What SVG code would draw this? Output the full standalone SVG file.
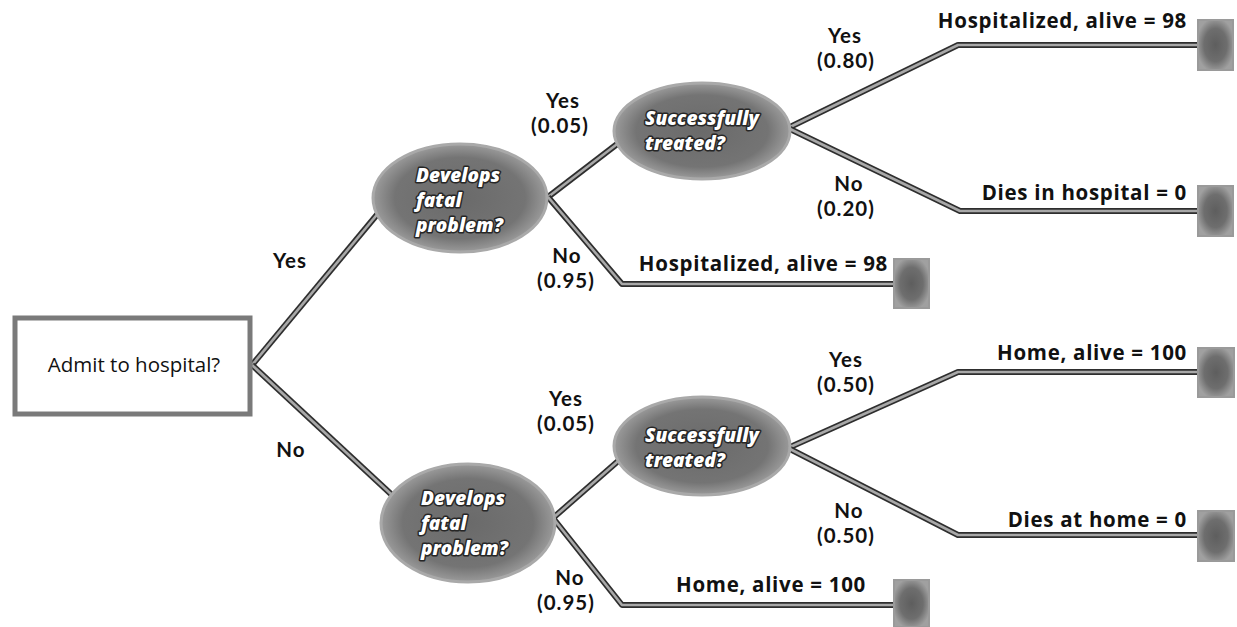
<svg xmlns="http://www.w3.org/2000/svg" xmlns:xlink="http://www.w3.org/1999/xlink" width="1237" height="627" viewBox="0 0 1237 627">
  <style>
    .lbl { font-family: Lato, "Open Sans", "Liberation Sans", sans-serif; font-weight: 700; font-size: 20.5px; letter-spacing: 1px; fill: #111; text-anchor: middle; }
    .out { font-family: "Open Sans", Lato, "Liberation Sans", sans-serif; font-weight: 700; font-size: 20.5px; letter-spacing: 0.7px; fill: #111; text-anchor: end; }
    .q { font-family: "Open Sans", Lato, "Liberation Sans", sans-serif; font-weight: 800; font-style: italic; font-size: 19px; fill: #fff; stroke: #262626; stroke-width: 3px; paint-order: stroke; stroke-linejoin: round; }
    .root { font-family: "Open Sans", Lato, "Liberation Sans", sans-serif; font-size: 20.5px; fill: #111; text-anchor: middle; }
    .wire-o { fill: none; stroke: #2e2e2e; stroke-width: 6; stroke-linejoin: round; }
    .wire-i { fill: none; stroke: #a8a8a8; stroke-width: 2.6; stroke-linejoin: round; }
    .chance { fill: url(#chanceFill); stroke: #a9a9a9; stroke-width: 3; }
    .term { fill: url(#termFill); stroke: #9a9a9a; stroke-width: 2; }
  </style>
  <defs>
    <radialGradient id="chanceFill" cx="50%" cy="50%" r="50%">
      <stop offset="0" stop-color="#6a6a6a"/>
      <stop offset="0.75" stop-color="#747474"/>
      <stop offset="1" stop-color="#9a9a9a"/>
    </radialGradient>
    <radialGradient id="termFill" cx="50%" cy="50%" r="55%">
      <stop offset="0" stop-color="#5e5e5e"/>
      <stop offset="0.6" stop-color="#6e6e6e"/>
      <stop offset="1" stop-color="#a0a0a0"/>
    </radialGradient>
    <path id="w1" d="M252,365 L385,205"/>
    <path id="w2" d="M252,365 L392,495"/>
    <path id="w3" d="M548,197 L625,138"/>
    <path id="w4" d="M548,197 L622,284 L895,284"/>
    <path id="w5" d="M788,128 L958,45 L1199,45"/>
    <path id="w6" d="M788,128 L960,211 L1199,211"/>
    <path id="w7" d="M553,518 L625,455"/>
    <path id="w8" d="M553,518 L622,605 L895,605"/>
    <path id="w9" d="M788,448 L958,372 L1199,372"/>
    <path id="w10" d="M788,448 L958,535 L1199,535"/>
  </defs>

  <rect width="1237" height="627" fill="#fff"/>

  <!-- branches: dark casing with a grey core -->
  <g id="connectors">
    <use xlink:href="#w1" class="wire-o"/><use xlink:href="#w1" class="wire-i"/>
    <use xlink:href="#w2" class="wire-o"/><use xlink:href="#w2" class="wire-i"/>
    <use xlink:href="#w3" class="wire-o"/><use xlink:href="#w3" class="wire-i"/>
    <use xlink:href="#w4" class="wire-o"/><use xlink:href="#w4" class="wire-i"/>
    <use xlink:href="#w5" class="wire-o"/><use xlink:href="#w5" class="wire-i"/>
    <use xlink:href="#w6" class="wire-o"/><use xlink:href="#w6" class="wire-i"/>
    <use xlink:href="#w7" class="wire-o"/><use xlink:href="#w7" class="wire-i"/>
    <use xlink:href="#w8" class="wire-o"/><use xlink:href="#w8" class="wire-i"/>
    <use xlink:href="#w9" class="wire-o"/><use xlink:href="#w9" class="wire-i"/>
    <use xlink:href="#w10" class="wire-o"/><use xlink:href="#w10" class="wire-i"/>
  </g>

  <!-- branch labels -->
  <g id="branch-labels">
    <text class="lbl" x="290" y="268">Yes</text>
    <text class="lbl" x="291" y="457">No</text>

    <text class="lbl" y="108"><tspan x="563">Yes</tspan><tspan x="560" dy="25">(0.05)</tspan></text>
    <text class="lbl" y="263"><tspan x="567">No</tspan><tspan x="566" dy="25">(0.95)</tspan></text>

    <text class="lbl" y="43"><tspan x="845">Yes</tspan><tspan x="846" dy="25">(0.80)</tspan></text>
    <text class="lbl" y="191"><tspan x="849">No</tspan><tspan x="846" dy="25">(0.20)</tspan></text>

    <text class="lbl" y="406"><tspan x="566">Yes</tspan><tspan x="566" dy="25">(0.05)</tspan></text>
    <text class="lbl" y="585"><tspan x="570">No</tspan><tspan x="566" dy="25">(0.95)</tspan></text>

    <text class="lbl" y="367"><tspan x="846">Yes</tspan><tspan x="846" dy="25">(0.50)</tspan></text>
    <text class="lbl" y="518"><tspan x="849">No</tspan><tspan x="846" dy="25">(0.50)</tspan></text>
  </g>

  <!-- decision node -->
  <g id="admit">
    <rect x="15" y="318" width="235" height="96" fill="#fff" stroke="#7a7a7a" stroke-width="5"/>
    <text class="root" x="134" y="372">Admit to hospital?</text>
  </g>

  <!-- chance nodes -->
  <g id="develops-admit">
    <ellipse class="chance" cx="460" cy="198" rx="87" ry="54"/>
    <text class="q" y="182"><tspan x="416">Develops</tspan><tspan x="416" dy="25">fatal</tspan><tspan x="416" dy="25">problem?</tspan></text>
  </g>
  <g id="treated-admit">
    <ellipse class="chance" cx="702" cy="131" rx="88" ry="48"/>
    <text class="q" y="125"><tspan x="645">Successfully</tspan><tspan x="645" dy="25">treated?</tspan></text>
  </g>
  <g id="develops-home">
    <ellipse class="chance" cx="468" cy="523" rx="87" ry="59"/>
    <text class="q" y="505"><tspan x="421">Develops</tspan><tspan x="421" dy="25">fatal</tspan><tspan x="421" dy="25">problem?</tspan></text>
  </g>
  <g id="treated-home">
    <ellipse class="chance" cx="702" cy="446" rx="88" ry="49"/>
    <text class="q" y="442"><tspan x="645">Successfully</tspan><tspan x="645" dy="25">treated?</tspan></text>
  </g>

  <!-- outcomes -->
  <g id="out-admit-treated">
    <rect class="term" x="1198" y="20" width="35" height="50"/>
    <text class="out" x="1187" y="28">Hospitalized, alive = 98</text>
  </g>
  <g id="out-admit-dies">
    <rect class="term" x="1198" y="186" width="35" height="50"/>
    <text class="out" x="1187" y="200">Dies in hospital = 0</text>
  </g>
  <g id="out-admit-fine">
    <rect class="term" x="894" y="259" width="35" height="49"/>
    <text class="out" x="888" y="271">Hospitalized, alive = 98</text>
  </g>
  <g id="out-home-treated">
    <rect class="term" x="1198" y="348" width="36" height="49"/>
    <text class="out" x="1187" y="360">Home, alive = 100</text>
  </g>
  <g id="out-home-dies">
    <rect class="term" x="1198" y="511" width="36" height="50"/>
    <text class="out" x="1187" y="527">Dies at home = 0</text>
  </g>
  <g id="out-home-fine">
    <rect class="term" x="894" y="580" width="35" height="47"/>
    <text class="out" x="866" y="592">Home, alive = 100</text>
  </g>
</svg>
